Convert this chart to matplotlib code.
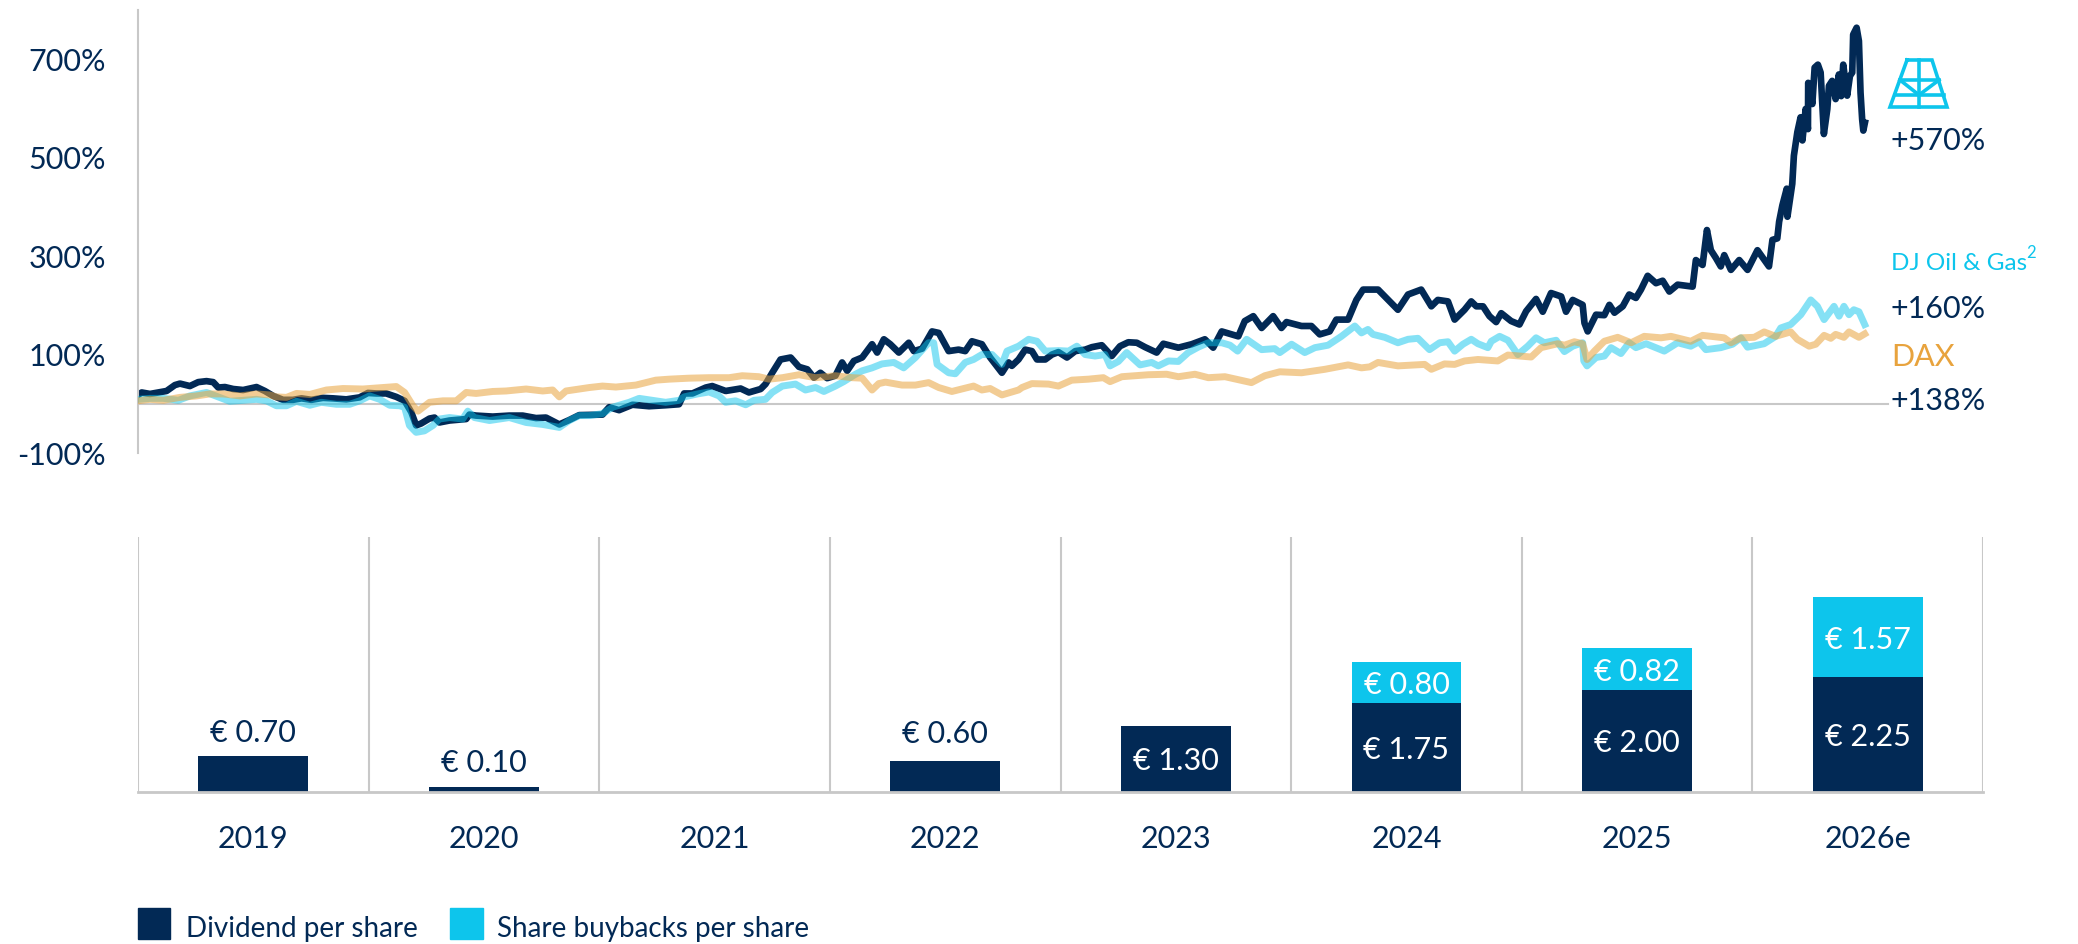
import matplotlib
matplotlib.use('Agg')
import matplotlib.pyplot as plt
from matplotlib.patches import Rectangle

plt.rcParams['font.family'] = ['Lato', 'DejaVu Sans']

W, H = 2078, 944
NAVY = '#022955'
CYAN = '#0DC5EC'
ORANGE = '#E8A33D'
GREY = '#C8C8C8'

# years since the start of 2019, indexed performance in %
stock_t = [0.000, 0.016, 0.052, 0.088, 0.124, 0.160, 0.182, 0.225, 0.261, 0.297, 0.326, 0.348, 0.377, 0.413,
           0.456, 0.514, 0.550, 0.586, 0.629, 0.672, 0.709, 0.752, 0.802, 0.846, 0.903, 0.961, 0.997, 1.033,
           1.076, 1.120, 1.156, 1.185, 1.206, 1.228, 1.264, 1.286, 1.307, 1.351, 1.423, 1.437, 1.466, 1.538,
           1.610, 1.668, 1.726, 1.769, 1.827, 1.870, 1.913, 2.014, 2.043, 2.086, 2.144, 2.216, 2.288, 2.346,
           2.368, 2.404, 2.462, 2.490, 2.548, 2.613, 2.649, 2.700, 2.721, 2.750, 2.786, 2.830, 2.866, 2.902,
           2.931, 2.959, 2.988, 3.024, 3.053, 3.075, 3.104, 3.140, 3.183, 3.205, 3.234, 3.262, 3.299, 3.342,
           3.364, 3.400, 3.443, 3.472, 3.515, 3.558, 3.587, 3.616, 3.659, 3.695, 3.746, 3.775, 3.789, 3.818,
           3.847, 3.876, 3.898, 3.934, 3.963, 3.991, 4.028, 4.064, 4.107, 4.136, 4.179, 4.222, 4.258, 4.294,
           4.331, 4.367, 4.417, 4.446, 4.511, 4.569, 4.626, 4.662, 4.699, 4.771, 4.799, 4.836, 4.872, 4.922,
           4.958, 4.980, 5.045, 5.088, 5.124, 5.167, 5.196, 5.247, 5.283, 5.312, 5.377, 5.463, 5.507, 5.564,
           5.608, 5.636, 5.680, 5.709, 5.752, 5.781, 5.803, 5.832, 5.860, 5.889, 5.911, 5.954, 5.990, 6.019,
           6.062, 6.091, 6.127, 6.171, 6.192, 6.221, 6.264, 6.272, 6.286, 6.322, 6.358, 6.380, 6.402, 6.438,
           6.466, 6.495, 6.517, 6.546, 6.582, 6.611, 6.640, 6.676, 6.741, 6.755, 6.784, 6.803, 6.820, 6.842,
           6.863, 6.878, 6.907, 6.943, 6.979, 7.022, 7.072, 7.087, 7.108, 7.116, 7.130, 7.149, 7.152, 7.173,
           7.180, 7.195, 7.209, 7.217, 7.231, 7.241, 7.242, 7.260, 7.270, 7.284, 7.296, 7.310, 7.325, 7.332,
           7.346, 7.361, 7.375, 7.385, 7.394, 7.411, 7.423, 7.433, 7.437, 7.452, 7.462, 7.469, 7.476, 7.481,
           7.488]
stock_v = [18, 23, 20, 23, 26, 38, 41, 36, 44, 46, 44, 33, 34, 30,
           28, 34, 26, 16, 8, 8, 11, 8, 12, 11, 9, 13, 22, 21,
           21, 14, 6, -17, -44, -40, -30, -28, -38, -34, -31, -22, -24, -26,
           -24, -24, -29, -28, -42, -33, -23, -22, -7, -13, -2, -5, -3, -1,
           21, 21, 33, 36, 26, 31, 23, 30, 40, 63, 90, 94, 75, 70,
           53, 63, 52, 57, 84, 67, 87, 94, 121, 104, 131, 121, 104, 124,
           107, 112, 147, 144, 107, 110, 107, 127, 121, 94, 63, 84, 77, 90,
           110, 107, 90, 90, 100, 105, 94, 107, 110, 115, 119, 97, 117, 125,
           124, 115, 104, 122, 114, 121, 131, 114, 147, 137, 168, 178, 154, 178,
           154, 166, 158, 158, 141, 147, 171, 171, 211, 232, 232, 191, 222, 232,
           198, 211, 208, 171, 191, 208, 198, 198, 178, 166, 184, 168, 161, 188,
           213, 187, 225, 218, 187, 211, 201, 164, 147, 181, 180, 201, 185, 198,
           222, 215, 232, 260, 245, 250, 228, 242, 238, 292, 282, 353, 312, 296,
           279, 302, 272, 292, 272, 312, 279, 333, 336, 370, 403, 437, 380, 447,
           504, 552, 582, 535, 599, 558, 652, 609, 683, 689, 673, 548, 599, 646,
           656, 619, 669, 625, 689, 626, 666, 673, 750, 764, 737, 632, 578, 555,
           571]

oil_t = [0.000, 0.052, 0.110, 0.175, 0.225, 0.297, 0.348, 0.398, 0.456, 0.514, 0.557, 0.600, 0.644, 0.687,
         0.745, 0.795, 0.860, 0.918, 0.961, 1.004, 1.048, 1.091, 1.134, 1.156, 1.177, 1.206, 1.242, 1.279,
         1.307, 1.351, 1.408, 1.430, 1.459, 1.524, 1.610, 1.683, 1.755, 1.827, 1.870, 1.913, 1.957, 2.014,
         2.058, 2.130, 2.173, 2.231, 2.288, 2.346, 2.368, 2.426, 2.476, 2.519, 2.548, 2.591, 2.635, 2.671,
         2.721, 2.750, 2.794, 2.851, 2.894, 2.938, 2.974, 3.024, 3.060, 3.111, 3.140, 3.183, 3.226, 3.277,
         3.320, 3.371, 3.428, 3.450, 3.465, 3.515, 3.544, 3.587, 3.623, 3.659, 3.703, 3.746, 3.768, 3.818,
         3.862, 3.898, 3.934, 3.991, 4.035, 4.071, 4.107, 4.150, 4.193, 4.215, 4.251, 4.287, 4.345, 4.395,
         4.424, 4.468, 4.511, 4.554, 4.597, 4.641, 4.699, 4.735, 4.768, 4.807, 4.872, 4.929, 4.951, 5.002,
         5.059, 5.103, 5.160, 5.218, 5.276, 5.305, 5.333, 5.355, 5.406, 5.463, 5.507, 5.550, 5.600, 5.644,
         5.680, 5.709, 5.745, 5.781, 5.810, 5.853, 5.868, 5.904, 5.940, 5.983, 6.026, 6.062, 6.098, 6.149,
         6.185, 6.221, 6.264, 6.269, 6.283, 6.322, 6.358, 6.387, 6.430, 6.466, 6.495, 6.539, 6.618, 6.676,
         6.733, 6.769, 6.798, 6.863, 6.914, 6.950, 6.979, 7.051, 7.101, 7.123, 7.166, 7.210, 7.253, 7.282,
         7.311, 7.354, 7.376, 7.397, 7.419, 7.440, 7.462, 7.487]
oil_v = [9, 11, 11, 7, 16, 23, 14, 5, 7, 9, 6, -4, -4, 5,
         -3, 3, -1, -1, 6, 16, 9, -3, -4, -7, -44, -58, -55, -44,
         -31, -28, -31, -15, -28, -34, -28, -38, -42, -48, -34, -24, -24, -20,
         -7, 3, 11, 7, 3, 7, 14, 20, 24, 16, 3, 6, -2, 7,
         9, 23, 36, 40, 28, 33, 25, 36, 45, 60, 67, 73, 81, 84,
         73, 94, 124, 124, 80, 63, 61, 84, 90, 100, 100, 80, 107, 117,
         131, 127, 107, 108, 107, 117, 100, 97, 100, 77, 86, 104, 79, 84,
         77, 87, 86, 104, 115, 124, 124, 119, 107, 131, 110, 112, 104, 121,
         104, 114, 119, 137, 158, 144, 151, 141, 135, 124, 131, 133, 110, 124,
         126, 107, 121, 131, 122, 114, 127, 137, 129, 100, 117, 134, 124, 129,
         106, 117, 124, 87, 77, 94, 97, 114, 102, 124, 114, 122, 107, 124,
         117, 126, 110, 114, 121, 134, 115, 122, 137, 154, 161, 181, 211, 198,
         171, 198, 178, 198, 181, 191, 187, 161]

dax_t = [0.000, 0.052, 0.110, 0.182, 0.254, 0.311, 0.369, 0.442, 0.514, 0.571, 0.600, 0.644, 0.687,
         0.745, 0.817, 0.889, 0.975, 1.062, 1.120, 1.156, 1.192, 1.214, 1.264, 1.322, 1.380, 1.423,
         1.466, 1.538, 1.596, 1.683, 1.755, 1.798, 1.827, 1.856, 1.913, 1.957, 2.014, 2.072, 2.159,
         2.245, 2.303, 2.389, 2.476, 2.563, 2.620, 2.692, 2.736, 2.794, 2.866, 2.938, 3.024, 3.097,
         3.140, 3.183, 3.212, 3.241, 3.313, 3.371, 3.428, 3.472, 3.529, 3.623, 3.659, 3.695, 3.746,
         3.818, 3.833, 3.876, 3.948, 3.991, 4.049, 4.121, 4.186, 4.215, 4.266, 4.381, 4.460, 4.511,
         4.583, 4.641, 4.713, 4.828, 4.886, 4.951, 5.045, 5.146, 5.247, 5.305, 5.341, 5.377, 5.463,
         5.579, 5.608, 5.665, 5.709, 5.752, 5.810, 5.896, 5.940, 6.041, 6.084, 6.156, 6.185, 6.228,
         6.264, 6.283, 6.315, 6.358, 6.416, 6.474, 6.531, 6.604, 6.647, 6.733, 6.784, 6.878, 6.907,
         6.950, 7.008, 7.051, 7.101, 7.166, 7.195, 7.246, 7.275, 7.311, 7.340, 7.361, 7.397, 7.419,
         7.462, 7.487]
dax_v = [6, 9, 7, 13, 16, 20, 20, 16, 20, 18, 14, 13, 21,
         19, 28, 31, 30, 33, 35, 23, -4, -15, 3, 6, 6, 23,
         21, 25, 26, 30, 26, 28, 14, 26, 30, 33, 36, 34, 38,
         48, 50, 52, 53, 53, 57, 55, 50, 53, 59, 53, 57, 53,
         52, 28, 41, 44, 38, 38, 43, 33, 25, 36, 28, 31, 18,
         28, 33, 41, 40, 36, 48, 50, 53, 45, 55, 59, 60, 55,
         60, 53, 55, 43, 57, 65, 63, 70, 79, 73, 75, 84, 77,
         80, 70, 81, 80, 87, 90, 87, 99, 95, 114, 122, 119, 126,
         122, 90, 107, 127, 135, 124, 137, 134, 137, 127, 139, 134, 124,
         134, 135, 146, 137, 146, 131, 117, 121, 139, 133, 141, 135, 146,
         135, 142]

y_ticks = [700, 500, 300, 100, -100]
years = ['2019', '2020', '2021', '2022', '2023', '2024', '2025', '2026e']
dividend = [0.70, 0.10, 0, 0.60, 1.30, 1.75, 2.00, 2.25]
buyback = [0, 0, 0, 0, 0, 0.80, 0.82, 1.57]


def fig_rect(left, top, right, bottom):
    return [left / W, 1 - bottom / H, (right - left) / W, (bottom - top) / H]


def fig_text(x, y, s, **kw):
    kw.setdefault('color', NAVY)
    kw.setdefault('fontsize', 22)
    kw.setdefault('va', 'center_baseline')
    fig.text(x / W, 1 - y / H, s, **kw)


fig = plt.figure(figsize=(W / 100, H / 100), dpi=100)

# share price panel
ax1 = fig.add_axes(fig_rect(138, 10, 1983, 453))
ax1.set_xlim(0, 8)
ax1.set_ylim(-94, 800)
ax1.plot([0, 7.59], [0, 0], color=GREY, lw=1.5, zorder=1)
ax1.plot(stock_t, stock_v, color=NAVY, lw=4.8, zorder=2, solid_joinstyle='round')
ax1.plot(oil_t, oil_v, color=CYAN, lw=5, alpha=0.5, zorder=3, solid_joinstyle='round')
ax1.plot(dax_t, dax_v, color=ORANGE, lw=5, alpha=0.55, zorder=4, solid_joinstyle='round')
for s in ['top', 'right', 'bottom']:
    ax1.spines[s].set_visible(False)
ax1.spines['left'].set_color(GREY)
ax1.spines['left'].set_linewidth(1.5)
ax1.set_xticks([])
ax1.set_yticks(y_ticks)
ax1.set_yticklabels([f'{t}%' for t in y_ticks], color=NAVY, fontsize=22, va='center_baseline')
ax1.tick_params(axis='y', length=0, pad=23)
ax1.patch.set_alpha(0)

# dividend / buyback panel
ax2 = fig.add_axes(fig_rect(138, 537, 1983, 792))
xs = list(range(len(years)))
ax2.bar(xs, dividend, width=0.476, color=NAVY, zorder=2)
ax2.bar(xs, buyback, width=0.476, bottom=dividend, color=CYAN, zorder=2)
ax2.set_xlim(-0.5, 7.5)
ax2.set_ylim(0, 5)
for gx in [x - 0.5 for x in range(9)]:
    ax2.axvline(gx, color=GREY, lw=1.5, zorder=1)
for s in ['top', 'right', 'left']:
    ax2.spines[s].set_visible(False)
ax2.spines['bottom'].set_color(GREY)
ax2.spines['bottom'].set_linewidth(2)
ax2.set_yticks([])
ax2.set_xticks(xs)
ax2.set_xticklabels(years, color=NAVY, fontsize=22)
ax2.tick_params(axis='x', length=0, pad=24)

for x, d, b in zip(xs, dividend, buyback):
    if d == 0:
        continue
    if d < 1:
        # the 0.60 label sits level with the 0.70 one
        pad = 10 if d == 0.60 else 7
        ax2.annotate(f'€ {d:.2f}', (x, d), xytext=(0, pad), textcoords='offset points',
                     ha='center', va='bottom', color=NAVY, fontsize=22)
    else:
        ax2.text(x, d / 2, f'€ {d:.2f}', ha='center', va='center_baseline', color='white', fontsize=22)
    if b > 0:
        ax2.text(x, d + b / 2, f'€ {b:.2f}', ha='center', va='center_baseline', color='white', fontsize=22)

# end labels
fig_text(1891, 138, '+570%')
fig_text(1891, 262, 'DJ Oil & Gas', color=CYAN, fontsize=17.5)
fig_text(2026, 252, '2', color=CYAN, fontsize=12)
fig_text(1891, 307, '+160%')
fig_text(1891, 354, 'DAX', color=ORANGE)
fig_text(1891, 398, '+138%')

# derrick icon
icon = fig.add_axes(fig_rect(1885, 55, 1952, 112))
icon.set_xlim(1885, 1952)
icon.set_ylim(112, 55)
icon.axis('off')
icon.plot([1907, 1932, 1947, 1890, 1907], [60, 60, 107, 107, 60], color=CYAN, lw=2.6, solid_joinstyle='miter')
icon.plot([1919, 1919], [60, 107], color=CYAN, lw=2.6)
icon.plot([1900, 1939], [80, 80], color=CYAN, lw=2.6)
icon.plot([1895, 1944], [95, 95], color=CYAN, lw=2.6)
icon.plot([1900, 1919, 1939], [80, 95, 80], color=CYAN, lw=2.6)

# legend
fig.patches.append(Rectangle((138 / W, 1 - 939 / H), 32 / W, 31 / H, transform=fig.transFigure, color=NAVY))
fig.patches.append(Rectangle((450 / W, 1 - 939 / H), 33 / W, 31 / H, transform=fig.transFigure, color=CYAN))
fig_text(186, 927, 'Dividend per share', fontsize=20)
fig_text(497, 927, 'Share buybacks per share', fontsize=20)

fig.savefig('out.png', dpi=100)
plt.close(fig)
